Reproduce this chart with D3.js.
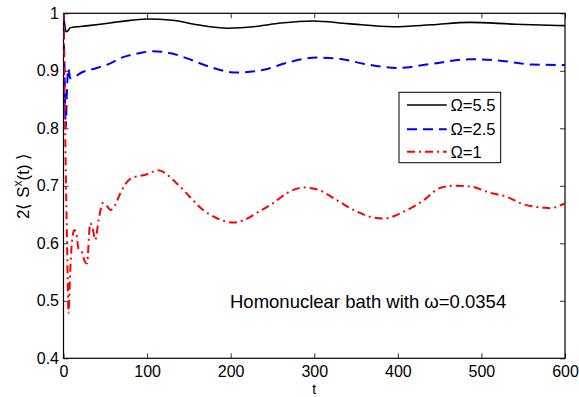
<!DOCTYPE html>
<html><head><meta charset="utf-8">
<script src="https://cdn.jsdelivr.net/npm/d3@7"></script>
<style>body{margin:0;background:#fff}svg{display:block}text{font-family:"Liberation Sans",Arial,sans-serif}</style>
</head><body>
<svg id="c" width="579" height="397"></svg>
<script>
const xTicks = [0,100,200,300,400,500,600];
const yTicks = [0.4,0.5,0.6,0.7,0.8,0.9,1];
const yTickLabels = ["0.4","0.5","0.6","0.7","0.8","0.9","1"];
const seriesNames = ["\u03A9=5.5","\u03A9=2.5","\u03A9=1"];
const tBlack = [0,1.5,3,5,8,20,44,70,100,130,160,197,230,260,299,340,394,440,486,540,600];
const vBlack = [1,0.98,0.968,0.969,0.975,0.977,0.981,0.986,0.990,0.988,0.980,0.974,0.977,0.983,0.9866,0.982,0.9767,0.980,0.9843,0.981,0.9785];
const tBlue = [0,1.5,2.6,4,5.8,8,23,40,56,68,92,107,130,147,175,207,240,270,303,330,360,399,440,486,520,560,600];
const vBlue = [1,0.88,0.80,0.86,0.904,0.887,0.898,0.905,0.913,0.922,0.931,0.934,0.930,0.922,0.907,0.897,0.902,0.915,0.923,0.921,0.912,0.905,0.912,0.920,0.918,0.911,0.910];
const tRed = [0,1,2,3,4,5,6,8,10,13,15,18,22,25,28,32,35,38,42,47,52,56,62,68,80,100,113,135,151,167,183,203,215,235,251,267,287,303,327,347,367,383,407,431,450,466,486,510,530,550,574,582,600];
const vRed = [1,0.9,0.8,0.70,0.62,0.54,0.478,0.55,0.6,0.623,0.62,0.59,0.585,0.57,0.565,0.635,0.625,0.606,0.64,0.67,0.665,0.658,0.667,0.687,0.712,0.72,0.727,0.705,0.681,0.658,0.644,0.636,0.640,0.656,0.670,0.687,0.697,0.694,0.675,0.658,0.646,0.643,0.655,0.675,0.696,0.700,0.699,0.688,0.681,0.668,0.662,0.661,0.670];
const annotation = "Homonuclear bath with \u03C9=0.0354";

const svg = d3.select("#c");
const L=63.5, R=565, T=13.3, B=358.3;
const x = d3.scaleLinear().domain([0,600]).range([L,R]);
const y = d3.scaleLinear().domain([0.4,1]).range([B,T]);

svg.append("defs").append("clipPath").attr("id","clip").append("rect")
  .attr("x",L).attr("y",T-2).attr("width",R-L).attr("height",B-T+2);

const fs = 16;
const gx = svg.append("g").attr("transform",`translate(0,${B})`)
  .call(d3.axisBottom(x).tickValues(xTicks).tickSizeInner(-5).tickSizeOuter(0).tickPadding(7).tickFormat(d3.format("d")));
const gy = svg.append("g").attr("transform",`translate(${L},0)`)
  .call(d3.axisLeft(y).tickValues(yTicks).tickSizeInner(-5).tickSizeOuter(0).tickPadding(4.5).tickFormat((d,i)=>yTickLabels[i]));
const gt = svg.append("g").attr("transform",`translate(0,${T})`)
  .call(d3.axisTop(x).tickValues(xTicks).tickSizeInner(-5).tickSizeOuter(0).tickFormat(""));
const gr = svg.append("g").attr("transform",`translate(${R},0)`)
  .call(d3.axisRight(y).tickValues(yTicks).tickSizeInner(-5).tickSizeOuter(0).tickFormat(""));
[gx,gy,gt,gr].forEach(g=>{
  g.select(".domain").remove();
  g.selectAll("line").attr("stroke","#000").attr("stroke-width",0.8);
  g.selectAll("text").attr("font-size",fs).attr("fill","#000").attr("font-family","Liberation Sans, Arial, sans-serif");
});
svg.append("rect").attr("x",L).attr("y",T).attr("width",R-L).attr("height",B-T)
  .attr("fill","none").attr("stroke","#000").attr("stroke-width",1.2);

const line = d3.line().x(d=>x(d[0])).y(d=>y(d[1])).curve(d3.curveMonotoneX);
const plot = svg.append("g").attr("clip-path","url(#clip)");
const series = [
  {t:tBlack,v:vBlack,color:"#000",dash:null,w:1.6},
  {t:tBlue,v:vBlue,color:"#0000ff",dash:"10,6",w:2},
  {t:tRed,v:vRed,color:"#ff0000",dash:"8,4,2,4",w:2}
];
series.forEach(s=>{
  plot.append("path").datum(s.t.map((t,i)=>[t,s.v[i]]))
    .attr("d",line).attr("fill","none").attr("stroke",s.color)
    .attr("stroke-width",s.w).attr("stroke-dasharray",s.dash);
});

// legend
const lg = svg.append("g");
lg.append("rect").attr("x",399).attr("y",92.3).attr("width",101.7).attr("height",70.4)
  .attr("fill","#fff").attr("stroke","#000").attr("stroke-width",1);
const ly = [105,129.3,151.7];
series.forEach((s,i)=>{
  lg.append("line").attr("x1",407).attr("x2",446.7).attr("y1",ly[i]).attr("y2",ly[i])
    .attr("stroke",s.color).attr("stroke-width",s.w).attr("stroke-dasharray",s.dash);
  lg.append("text").attr("x",450.5).attr("y",ly[i]).attr("dy","0.36em")
    .attr("font-size",16.5).text(seriesNames[i]);
});

svg.append("text").attr("x",230).attr("y",308).attr("font-size",18.5).text(annotation);

svg.append("text").attr("x",(L+R)/2).attr("y",394).attr("text-anchor","middle").attr("font-size",14).text("t");

const yl = svg.append("text").attr("transform",`translate(29,${(T+B)/2}) rotate(-90)`)
  .attr("text-anchor","middle").attr("font-size",17);
yl.append("tspan").text("2\u27E8 S");
yl.append("tspan").attr("font-size",12).attr("dy",-7).text("x");
yl.append("tspan").attr("dy",7).text("(t) \u27E9");
</script>
</body></html>
